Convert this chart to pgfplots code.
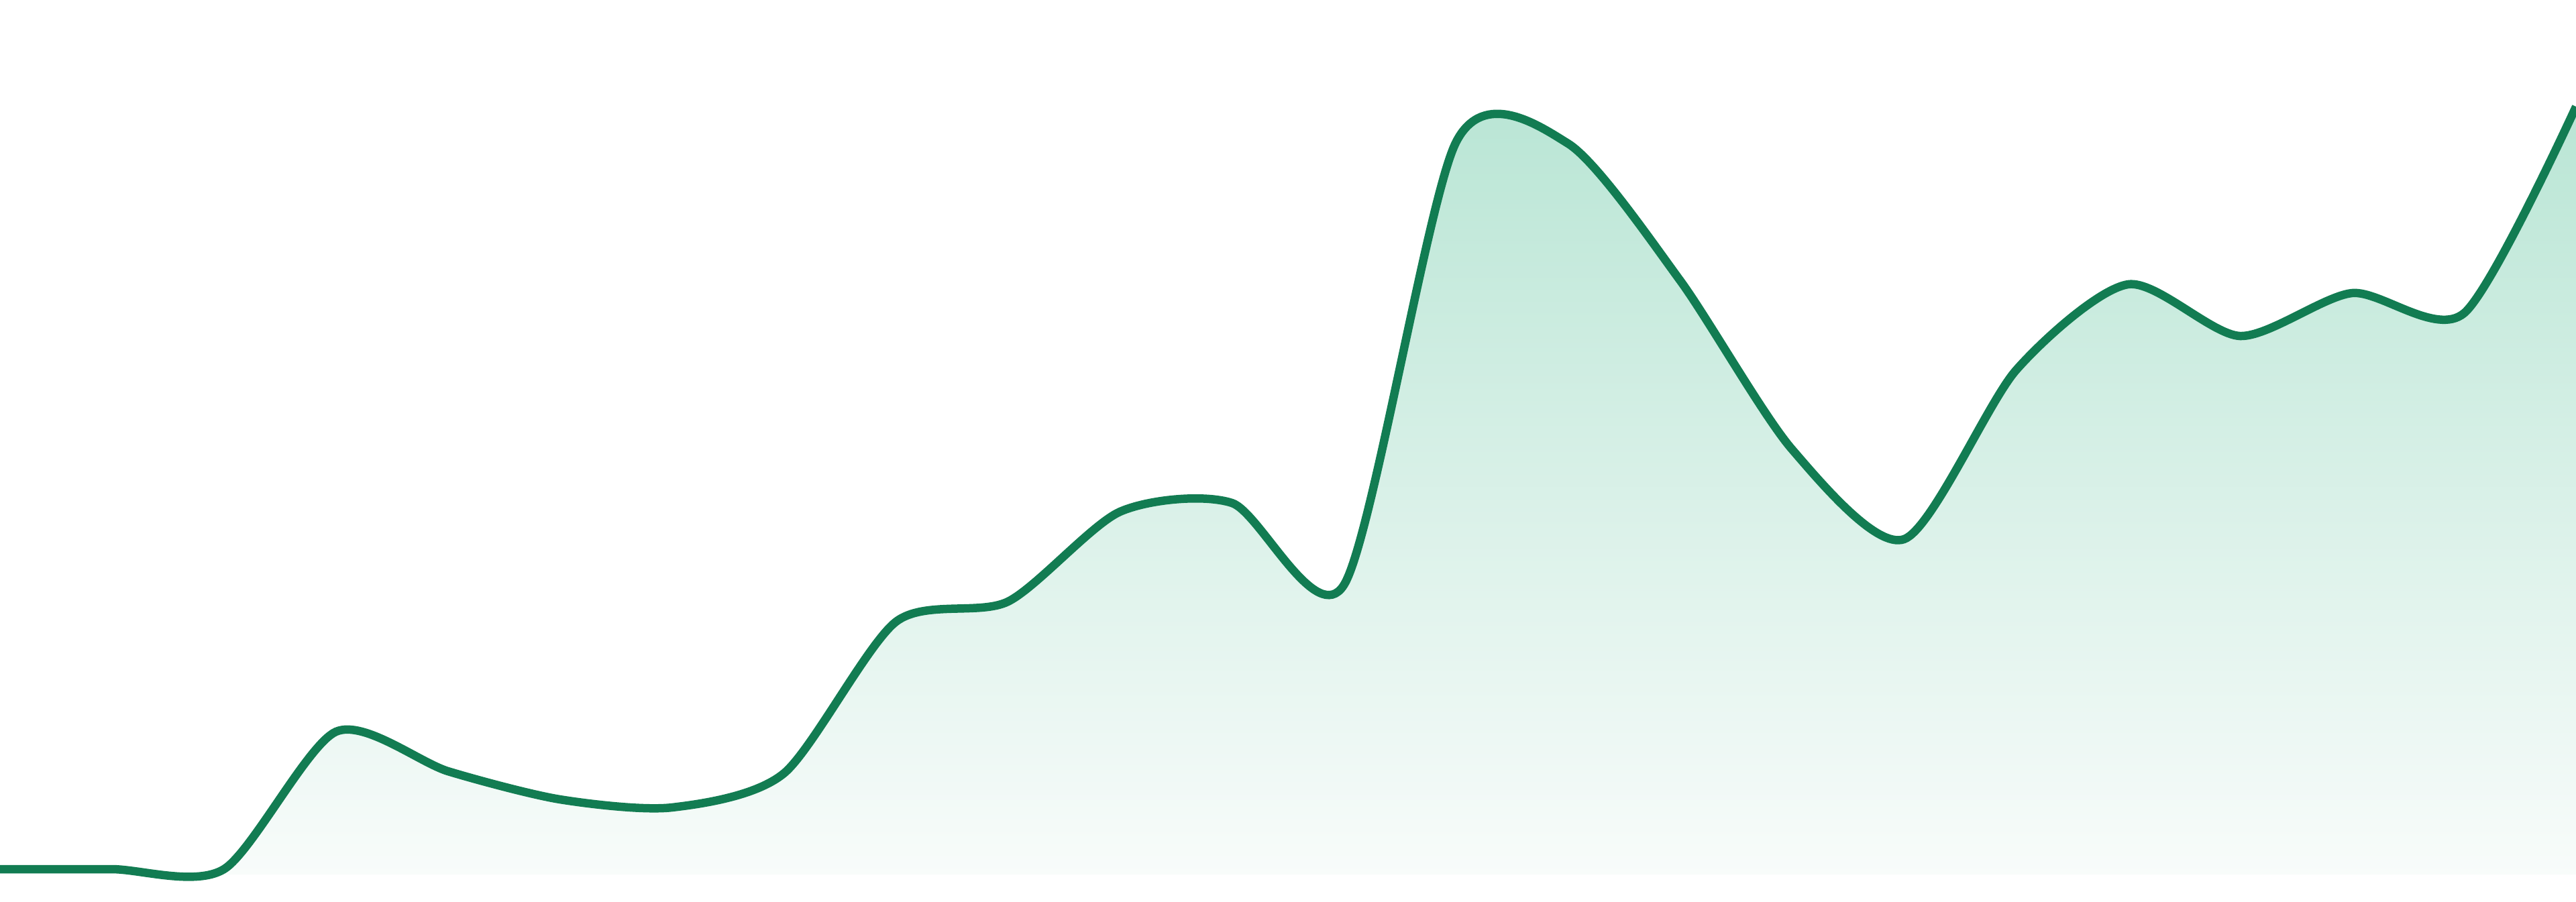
\documentclass[border=0pt]{standalone}
\usepackage{pgfplots}
\pgfplotsset{compat=1.18}
\definecolor{linegreen}{RGB}{18,124,82}
\definecolor{filltop}{RGB}{184,229,212}
\definecolor{fillbot}{RGB}{249,252,251}
\pgfplotstableread{
x y
0 8
1 8
2 8
3 213
4 154
5 112
6 100
7 151
8 377
9 407
10 541
11 554
12 432
13 1092
14 1090
15 886
16 634
17 500
18 752
19 880
20 803
21 867
22 837
23 1145
}\datatable
\begin{document}
\begin{tikzpicture}
\begin{axis}[
  width=384pt, height=134.4pt, scale only axis,
  xmin=0, xmax=23, ymin=-40, ymax=1304,
  axis line style={draw=none}, ticks=none,
  clip=true,
]
\addplot[draw=none, smooth, tension=0.45, top color=filltop, bottom color=fillbot] table[x=x,y=y] {\datatable} \closedcycle;
\addplot[draw=linegreen, line width=1.25pt, smooth, tension=0.45, mark=none] table[x=x,y=y] {\datatable};
\end{axis}
\end{tikzpicture}
\end{document}
